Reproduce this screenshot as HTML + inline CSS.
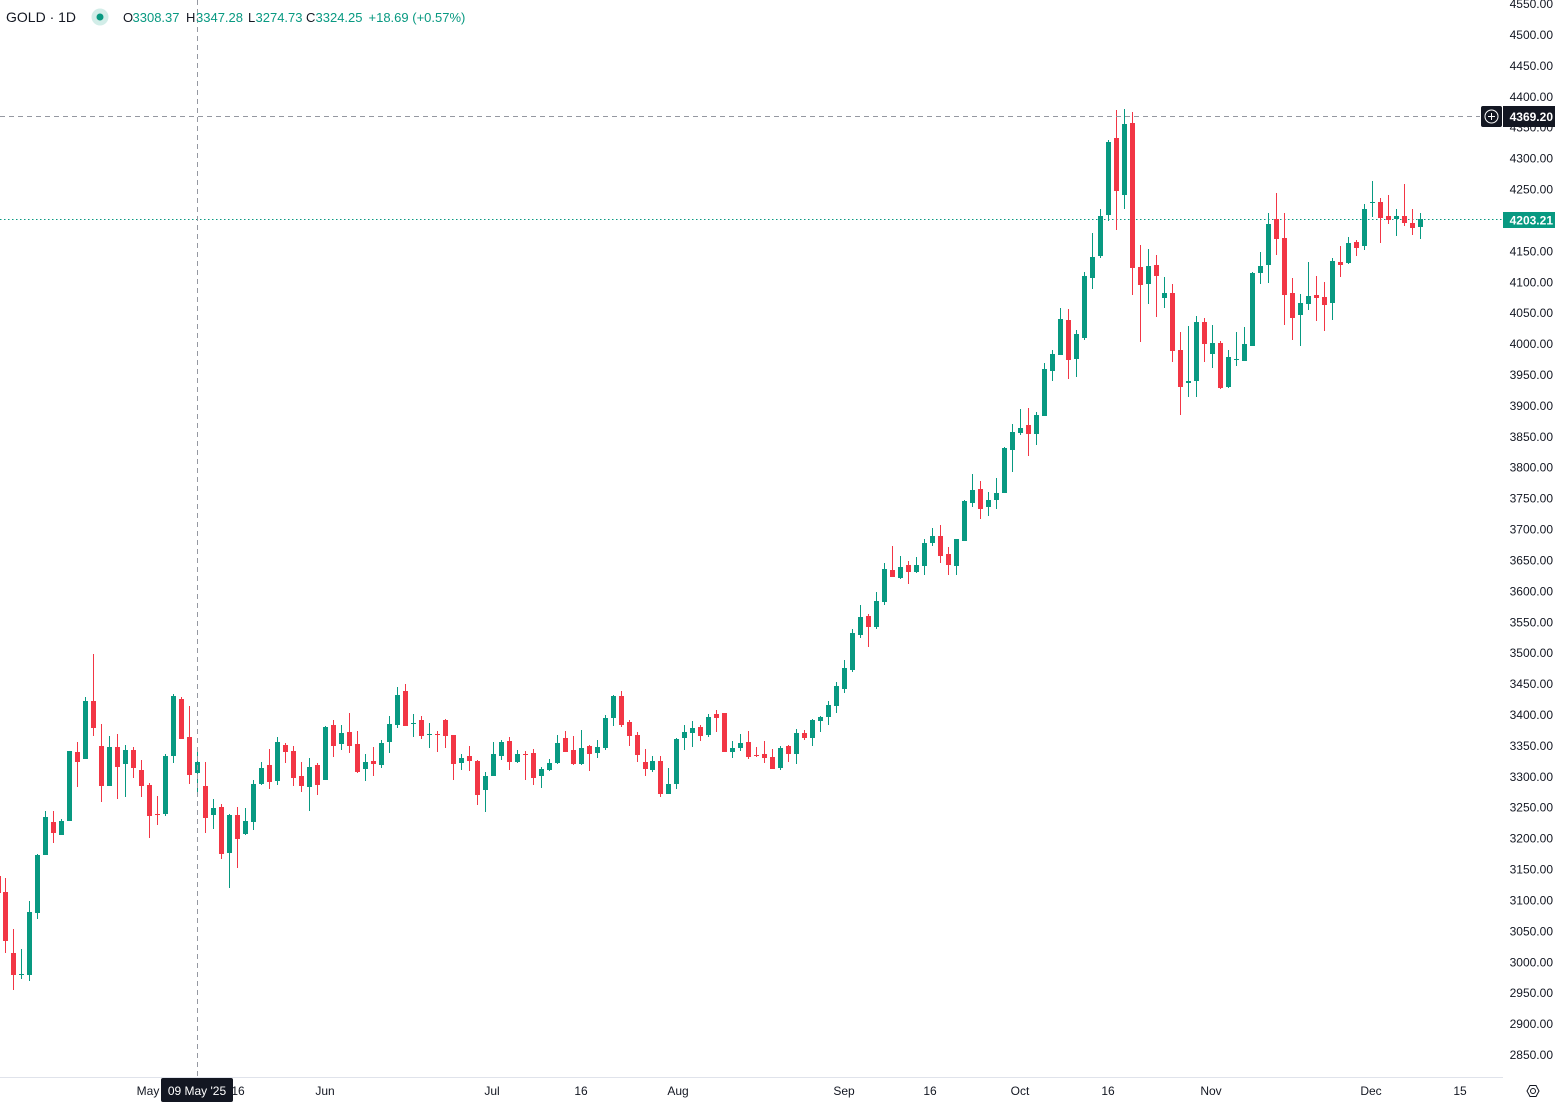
<!DOCTYPE html>
<html>
<head>
<meta charset="utf-8">
<style>
html,body{margin:0;padding:0;background:#ffffff;width:1555px;height:1102px;overflow:hidden}
svg{display:block}
text{font-family:"Liberation Sans",Arial,sans-serif}
</style>
</head>
<body>
<svg width="1555" height="1102" viewBox="0 0 1555 1102" xmlns="http://www.w3.org/2000/svg">
<rect x="0" y="0" width="1555" height="1102" fill="#ffffff"/>

<!-- last price dotted line -->
<line x1="0" y1="219.5" x2="1503" y2="219.5" stroke="#089981" stroke-width="1" stroke-dasharray="1.5 2.5"/>

<!-- green candles -->
<g shape-rendering="crispEdges">
<path fill="none" stroke="#089981" stroke-width="1" d="M21.5 949V979M29.5 901V981M37.5 854V919M45.5 811V855M61.5 819V835M69.5 751V821M85.5 697V759M109.5 736V786M125.5 745V797M165.5 754V816M173.5 694V763M197.5 748V793M213.5 799V829M229.5 814V888M245.5 808V835M253.5 780V830M261.5 762V785M277.5 737V785M309.5 758V811M325.5 726V780M341.5 725V750M365.5 754V781M381.5 740V768M389.5 716V753M397.5 687V728M413.5 714V737M429.5 723V748M461.5 754V770M485.5 772V812M493.5 742V776M501.5 740V760M517.5 750V763M541.5 767V788M549.5 759V771M557.5 735V764M581.5 730V765M597.5 740V758M605.5 715V750M613.5 695V726M652.5 756V772M668.5 768V794M676.5 738V789M684.5 725V750M692.5 721V747M708.5 714V737M732.5 741V758M740.5 734V751M780.5 746V770M796.5 729V764M812.5 719V746M820.5 716V732M828.5 701V725M836.5 682V713M844.5 660V693M852.5 629V672M860.5 605V638M876.5 592V629M884.5 563V605M900.5 556V579M916.5 557V573M924.5 539V575M932.5 528V546M956.5 539V575M964.5 500V541M972.5 474V507M988.5 492V516M996.5 478V509M1004.5 447V493M1012.5 424V472M1020.5 409V435M1036.5 412V445M1044.5 363V416M1052.5 350V381M1060.5 308V355M1076.5 330V377M1084.5 272V340M1092.5 233V289M1100.5 209V258M1108.5 140V221M1124.5 109V209M1148.5 249V304M1164.5 277V308M1188.5 326V397M1196.5 316V397M1212.5 325V368M1228.5 350V388M1236.5 332V366M1244.5 327V361M1252.5 272V346M1260.5 252V284M1268.5 213V283M1300.5 294V346M1308.5 262V310M1332.5 258V320M1348.5 237V264M1364.5 204V250M1372.5 181V217M1396.5 209V236M1420.5 213V239"/>
<path fill="#089981" d="M19 974h5V975h-5zM27 912h5V975h-5zM35 855h5V913h-5zM43 817h5V855h-5zM59 821h5V835h-5zM67 751h5V821h-5zM83 701h5V759h-5zM107 747h5V786h-5zM123 750h5V764h-5zM163 756h5V814h-5zM171 696h5V756h-5zM195 762h5V773h-5zM211 808h5V815h-5zM227 815h5V853h-5zM243 821h5V834h-5zM251 784h5V822h-5zM259 768h5V784h-5zM275 742h5V781h-5zM307 767h5V787h-5zM323 727h5V780h-5zM339 733h5V744h-5zM363 762h5V769h-5zM379 743h5V765h-5zM387 724h5V742h-5zM395 695h5V725h-5zM411 723h5V724h-5zM427 734h5V735h-5zM459 758h5V763h-5zM483 776h5V790h-5zM491 754h5V776h-5zM499 742h5V756h-5zM515 754h5V762h-5zM539 769h5V776h-5zM547 763h5V770h-5zM555 743h5V763h-5zM579 748h5V764h-5zM595 747h5V753h-5zM603 718h5V748h-5zM611 696h5V718h-5zM650 761h5V770h-5zM666 784h5V794h-5zM674 739h5V784h-5zM682 732h5V738h-5zM690 728h5V733h-5zM706 717h5V735h-5zM730 748h5V752h-5zM738 743h5V748h-5zM778 748h5V768h-5zM794 733h5V754h-5zM810 720h5V738h-5zM818 717h5V721h-5zM826 705h5V717h-5zM834 686h5V706h-5zM842 668h5V689h-5zM850 633h5V670h-5zM858 617h5V635h-5zM874 601h5V627h-5zM882 569h5V602h-5zM898 567h5V578h-5zM914 565h5V572h-5zM922 543h5V566h-5zM930 536h5V543h-5zM954 539h5V566h-5zM962 501h5V541h-5zM970 490h5V503h-5zM986 500h5V507h-5zM994 493h5V500h-5zM1002 448h5V493h-5zM1010 432h5V450h-5zM1018 428h5V433h-5zM1034 415h5V434h-5zM1042 369h5V416h-5zM1050 354h5V371h-5zM1058 319h5V355h-5zM1074 334h5V359h-5zM1082 276h5V338h-5zM1090 257h5V278h-5zM1098 216h5V256h-5zM1106 142h5V215h-5zM1122 124h5V195h-5zM1146 266h5V284h-5zM1162 293h5V298h-5zM1186 381h5V383h-5zM1194 322h5V381h-5zM1210 343h5V354h-5zM1226 357h5V387h-5zM1234 359h5V360h-5zM1242 344h5V361h-5zM1250 273h5V346h-5zM1258 266h5V273h-5zM1266 224h5V265h-5zM1298 303h5V315h-5zM1306 296h5V304h-5zM1330 261h5V303h-5zM1346 243h5V263h-5zM1362 209h5V246h-5zM1370 202h5V203h-5zM1394 216h5V219h-5zM1418 219h5V227h-5z"/>
</g>

<!-- red candles -->
<g shape-rendering="crispEdges">
<path fill="none" stroke="#F23645" stroke-width="1" d="M5.5 878V953M13.5 929V990M53.5 811V843M77.5 742V787M93.5 654V736M101.5 724V802M117.5 734V799M133.5 747V778M141.5 760V797M149.5 783V838M157.5 796V825M181.5 697V739M189.5 706V784M205.5 762V833M221.5 804V859M237.5 807V868M269.5 749V789M285.5 743V763M293.5 746V786M301.5 762V792M317.5 763V795M333.5 720V757M349.5 713V753M357.5 731V773M373.5 747V776M405.5 684V726M421.5 716V739M437.5 731V752M445.5 719V748M453.5 735V780M469.5 746V771M477.5 760V805M509.5 737V770M525.5 751V780M533.5 749V785M565.5 731V752M573.5 736V765M589.5 745V771M621.5 691V727M629.5 720V746M637.5 732V762M645.5 749V776M660.5 756V797M700.5 725V741M716.5 710V732M724.5 713V752M748.5 731V759M756.5 747V757M764.5 741V763M772.5 749V769M788.5 745V762M804.5 730V740M868.5 614V647M892.5 546V577M908.5 561V584M940.5 525V563M948.5 547V575M980.5 481V519M1028.5 408V456M1068.5 309V379M1116.5 110V230M1132.5 112V295M1140.5 245V342M1156.5 255V317M1172.5 284V362M1180.5 332V415M1204.5 318V362M1220.5 341V389M1276.5 193V255M1284.5 213V325M1292.5 278V340M1316.5 276V321M1324.5 282V331M1340.5 246V277M1356.5 240V256M1380.5 198V243M1388.5 195V224M1404.5 184V226M1412.5 209V235"/>
<path fill="#F23645" d="M-4 876h5V893h-5zM3 892h5V941h-5zM11 953h5V975h-5zM51 822h5V833h-5zM75 752h5V762h-5zM91 701h5V728h-5zM99 746h5V786h-5zM115 747h5V767h-5zM131 750h5V768h-5zM139 770h5V786h-5zM147 785h5V816h-5zM155 814h5V815h-5zM179 699h5V739h-5zM187 737h5V775h-5zM203 786h5V818h-5zM219 807h5V854h-5zM235 815h5V839h-5zM267 765h5V782h-5zM283 745h5V752h-5zM291 751h5V778h-5zM299 776h5V786h-5zM315 765h5V785h-5zM331 725h5V746h-5zM347 732h5V746h-5zM355 744h5V772h-5zM371 761h5V764h-5zM403 691h5V726h-5zM419 720h5V736h-5zM435 734h5V735h-5zM443 720h5V736h-5zM451 735h5V764h-5zM467 756h5V761h-5zM475 761h5V795h-5zM507 741h5V762h-5zM523 754h5V755h-5zM531 753h5V778h-5zM563 738h5V752h-5zM571 750h5V764h-5zM587 746h5V754h-5zM619 696h5V725h-5zM627 722h5V736h-5zM635 735h5V755h-5zM643 762h5V769h-5zM658 761h5V794h-5zM698 727h5V736h-5zM714 714h5V718h-5zM722 713h5V752h-5zM746 742h5V757h-5zM754 755h5V756h-5zM762 754h5V758h-5zM770 757h5V769h-5zM786 746h5V754h-5zM802 733h5V738h-5zM866 616h5V627h-5zM890 570h5V577h-5zM906 565h5V572h-5zM938 536h5V556h-5zM946 554h5V565h-5zM978 489h5V509h-5zM1026 425h5V434h-5zM1066 320h5V360h-5zM1114 138h5V191h-5zM1130 123h5V268h-5zM1138 267h5V285h-5zM1154 265h5V276h-5zM1170 293h5V351h-5zM1178 350h5V387h-5zM1202 322h5V344h-5zM1218 343h5V388h-5zM1274 219h5V239h-5zM1282 238h5V295h-5zM1290 293h5V318h-5zM1314 295h5V298h-5zM1322 297h5V305h-5zM1338 262h5V265h-5zM1354 242h5V248h-5zM1378 202h5V218h-5zM1386 216h5V220h-5zM1402 216h5V223h-5zM1410 223h5V228h-5z"/>
</g>

<!-- crosshair -->
<line x1="0" y1="116.5" x2="1480" y2="116.5" stroke="#9598a1" stroke-width="1" stroke-dasharray="5 4"/>
<line x1="197.5" y1="0" x2="197.5" y2="1076" stroke="#9598a1" stroke-width="1" stroke-dasharray="5 4"/>

<!-- time axis line -->
<line x1="0" y1="1077.5" x2="1503" y2="1077.5" stroke="#e0e3eb" stroke-width="1"/>

<!-- price axis labels -->
<g font-size="12" fill="#131722" text-anchor="end">
<text x="1553" y="8.1">4550.00</text>
<text x="1553" y="39">4500.00</text>
<text x="1553" y="69.9">4450.00</text>
<text x="1553" y="100.8">4400.00</text>
<text x="1553" y="131.7">4350.00</text>
<text x="1553" y="162.6">4300.00</text>
<text x="1553" y="193.5">4250.00</text>
<text x="1553" y="224.5">4200.00</text>
<text x="1553" y="255.4">4150.00</text>
<text x="1553" y="286.3">4100.00</text>
<text x="1553" y="317.2">4050.00</text>
<text x="1553" y="348.1">4000.00</text>
<text x="1553" y="379">3950.00</text>
<text x="1553" y="409.9">3900.00</text>
<text x="1553" y="440.8">3850.00</text>
<text x="1553" y="471.7">3800.00</text>
<text x="1553" y="502.6">3750.00</text>
<text x="1553" y="533.5">3700.00</text>
<text x="1553" y="564.5">3650.00</text>
<text x="1553" y="595.4">3600.00</text>
<text x="1553" y="626.3">3550.00</text>
<text x="1553" y="657.2">3500.00</text>
<text x="1553" y="688.1">3450.00</text>
<text x="1553" y="719">3400.00</text>
<text x="1553" y="749.9">3350.00</text>
<text x="1553" y="780.8">3300.00</text>
<text x="1553" y="811.7">3250.00</text>
<text x="1553" y="842.6">3200.00</text>
<text x="1553" y="873.5">3150.00</text>
<text x="1553" y="904.5">3100.00</text>
<text x="1553" y="935.4">3050.00</text>
<text x="1553" y="966.3">3000.00</text>
<text x="1553" y="997.2">2950.00</text>
<text x="1553" y="1028.1">2900.00</text>
<text x="1553" y="1059">2850.00</text>
</g>

<!-- crosshair price label -->
<rect x="1481" y="106" width="21" height="21" rx="2" fill="#131722"/>
<circle cx="1491.5" cy="116.5" r="6.5" fill="none" stroke="#ffffff" stroke-width="1"/>
<line x1="1488" y1="116.5" x2="1495" y2="116.5" stroke="#ffffff" stroke-width="1"/>
<line x1="1491.5" y1="113" x2="1491.5" y2="120" stroke="#ffffff" stroke-width="1"/>
<rect x="1503" y="106" width="52" height="21" fill="#131722"/>
<text x="1553" y="121" font-size="12" font-weight="bold" fill="#ffffff" text-anchor="end">4369.20</text>

<!-- last price label -->
<rect x="1503" y="212" width="52" height="16" fill="#089981"/>
<text x="1553" y="224.5" font-size="12" font-weight="bold" fill="#ffffff" text-anchor="end">4203.21</text>

<!-- time axis labels -->
<g font-size="12" fill="#131722" text-anchor="middle">
<text x="148" y="1095">May</text>
<text x="238" y="1095">16</text>
<text x="325" y="1095">Jun</text>
<text x="492" y="1095">Jul</text>
<text x="581" y="1095">16</text>
<text x="678" y="1095">Aug</text>
<text x="844" y="1095">Sep</text>
<text x="930" y="1095">16</text>
<text x="1020" y="1095">Oct</text>
<text x="1108" y="1095">16</text>
<text x="1211" y="1095">Nov</text>
<text x="1371" y="1095">Dec</text>
<text x="1460" y="1095">15</text>
</g>

<!-- crosshair time label -->
<rect x="161" y="1078" width="72" height="24" rx="2" fill="#131722"/>
<text x="197" y="1095" font-size="12" fill="#ffffff" text-anchor="middle">09 May '25</text>

<!-- settings icon -->
<polygon points="1527,1091 1530,1085.5 1536,1085.5 1539,1091 1536,1096.5 1530,1096.5" fill="none" stroke="#131722" stroke-width="1"/>
<circle cx="1533" cy="1091" r="2.5" fill="none" stroke="#131722" stroke-width="1"/>

<!-- header legend -->
<text x="6" y="22" font-size="14" fill="#131722">GOLD · 1D</text>
<circle cx="100" cy="17" r="8.5" fill="#089981" fill-opacity="0.18"/>
<circle cx="100" cy="17" r="3.5" fill="#089981"/>
<g font-size="13">
<text x="123" y="22" fill="#131722">O</text>
<text x="132.5" y="22" fill="#089981">3308.37</text>
<text x="186" y="22" fill="#131722">H</text>
<text x="196" y="22" fill="#089981">3347.28</text>
<text x="248" y="22" fill="#131722">L</text>
<text x="255.5" y="22" fill="#089981">3274.73</text>
<text x="306" y="22" fill="#131722">C</text>
<text x="315.5" y="22" fill="#089981">3324.25</text>
<text x="368.5" y="22" fill="#089981">+18.69 (+0.57%)</text>
</g>
</svg>
</body>
</html>
